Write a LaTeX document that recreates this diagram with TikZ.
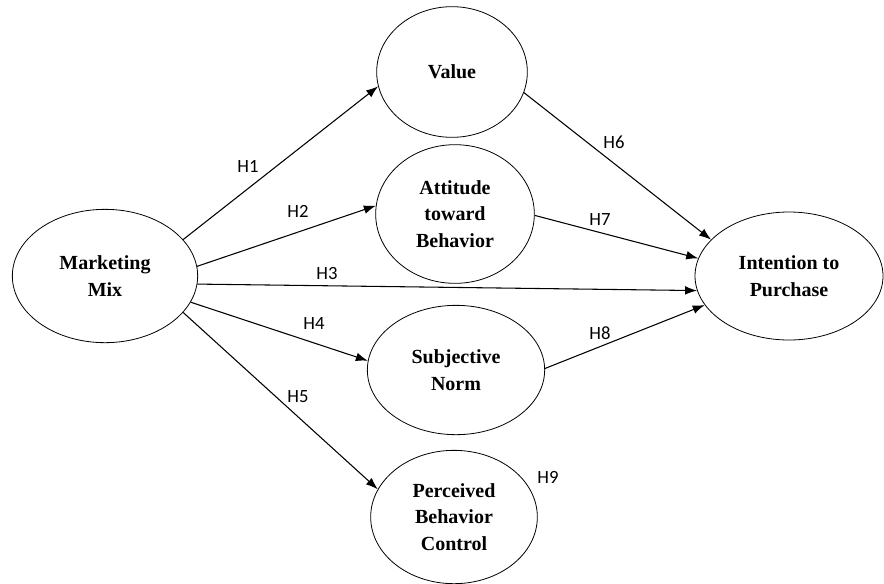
\documentclass[tikz,border=0pt]{standalone}
\usepackage{fontspec}
\setmainfont{Liberation Serif}
\newfontfamily\hfont{Carlito}
\usetikzlibrary{shapes.geometric,arrows.meta}
\begin{document}
\begin{tikzpicture}[x=0.75pt,y=-0.75pt,
  construct/.style={draw,ellipse,line width=0.6pt,inner sep=0pt,align=center,
    font=\fontsize{15}{20}\selectfont\bfseries},
  hyp/.style={font=\hfont\fontsize{14}{16}\selectfont},
  path/.style={line width=0.8pt,-{Latex[length=9pt,width=6.5pt]}}]
\useasboundingbox (0,0) rectangle (884,583);
% constructs
\node[construct,minimum width=139pt,minimum height=100pt] (mix) at (105,276) {Marketing\\Mix};
\node[construct,minimum width=113pt,minimum height=98pt] (val) at (452,72) {Value};
\node[construct,minimum width=119pt,minimum height=104pt] (att) at (455,214) {Attitude\\toward\\Behavior};
\node[construct,minimum width=133pt,minimum height=97pt] (sub) at (456,370) {Subjective\\Norm};
\node[construct,minimum width=125pt,minimum height=100pt] (pbc) at (454,517) {Perceived\\Behavior\\Control};
\node[construct,minimum width=141pt,minimum height=96pt] (int) at (789,276) {Intention to\\Purchase};
% hypotheses
\draw[path] (mix.25) -- (val.191);
\draw[path] (mix.6) -- (att.174);
\draw[path] (mix.-5) -- (int.189);
\draw[path] (mix.-17) -- (sub.174);
\draw[path] (mix.-25) -- (pbc.160);
\draw[path] (val.-16) -- (int.155);
\draw[path] (att.-1) -- (int.169);
\draw[path] (sub.1) -- (int.199);
% labels
\node[hyp] (h1) at (248,166) {H1};
\node[hyp] (h2) at (298,211) {H2};
\node[hyp] (h3) at (327,273) {H3};
\node[hyp] (h4) at (314,323) {H4};
\node[hyp] (h5) at (298,397) {H5};
\node[hyp] (h6) at (614,142) {H6};
\node[hyp] (h7) at (600,220) {H7};
\node[hyp] (h8) at (600,333) {H8};
\node[hyp] (h9) at (548,477) {H9};
\end{tikzpicture}
\end{document}
